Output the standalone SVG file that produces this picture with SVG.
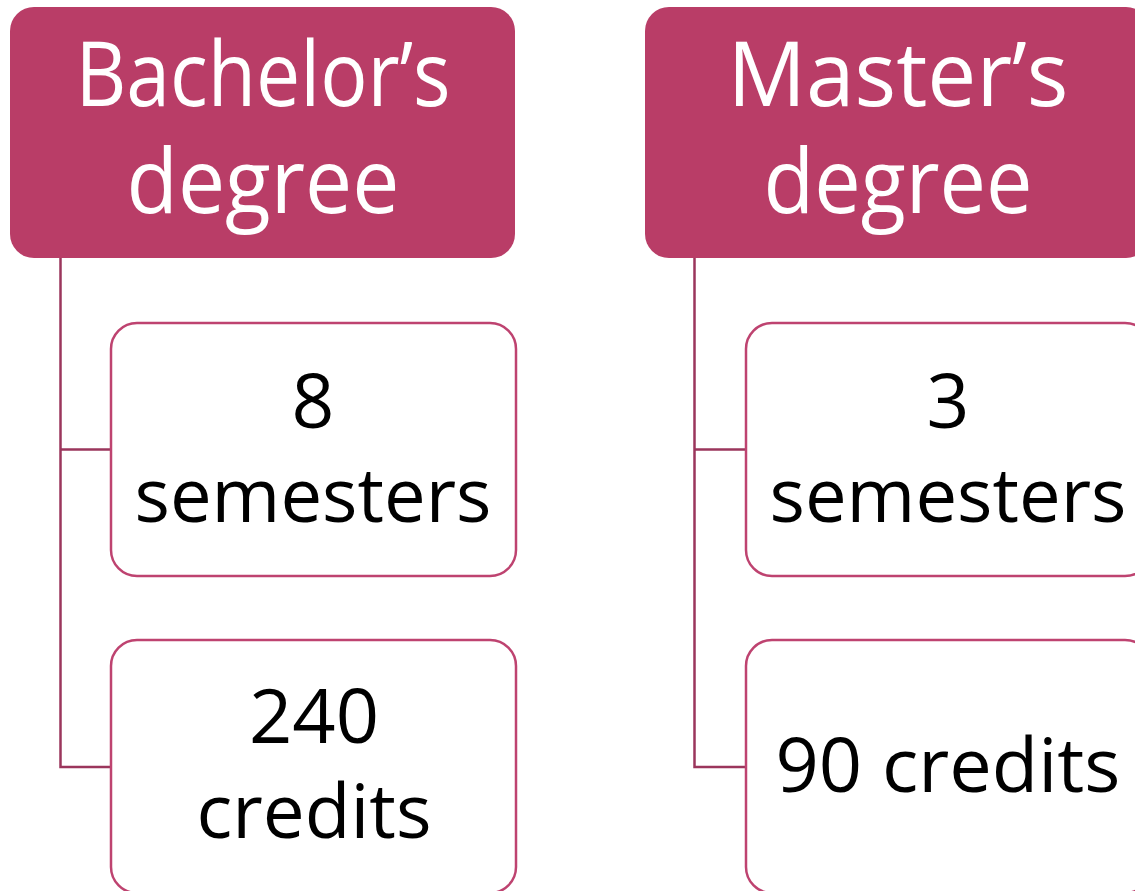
<svg xmlns="http://www.w3.org/2000/svg" width="1135" height="891" viewBox="0 0 1135 891">
<style>
.hdr{fill:#B93D67;}
.box{fill:#FFFFFF;stroke:#BE4370;stroke-width:2.5;}
.conn{fill:none;stroke:#9B365C;stroke-width:2.5;}
.ht{font-family:"Open Sans","Noto Sans",sans-serif;font-size:90px;fill:#FFFFFF;text-anchor:middle;}
.ct{font-family:"Open Sans","Noto Sans",sans-serif;font-size:75px;fill:#000000;text-anchor:middle;}
</style>
<rect width="1135" height="891" fill="#FFFFFF"/>
<g id="connectors">
<path class="conn" d="M60.5 258 V767 H110 M60.5 449.5 H110"/>
<path class="conn" d="M694.5 258 V767 H745 M694.5 449.5 H745"/>
</g>
<g id="bachelor">
<rect class="hdr" x="10" y="7" width="505" height="251" rx="24"/>
<text class="ht" x="263" y="106" textLength="375" lengthAdjust="spacingAndGlyphs">Bachelor’s</text>
<text class="ht" x="263" y="213" textLength="273" lengthAdjust="spacingAndGlyphs">degree</text>
</g>
<g id="b-semesters">
<rect class="box" x="111" y="323" width="405" height="253" rx="26"/>
<text class="ct" x="313" y="428">8</text>
<text class="ct" x="313" y="522" textLength="357" lengthAdjust="spacingAndGlyphs">semesters</text>
</g>
<g id="b-credits">
<rect class="box" x="111" y="640" width="405" height="253" rx="26"/>
<text class="ct" x="314" y="743" textLength="130" lengthAdjust="spacingAndGlyphs">240</text>
<text class="ct" x="314" y="838" textLength="235" lengthAdjust="spacingAndGlyphs">credits</text>
</g>
<g id="master">
<rect class="hdr" x="645" y="7" width="505" height="251" rx="24"/>
<text class="ht" x="898" y="106" textLength="341" lengthAdjust="spacingAndGlyphs">Master’s</text>
<text class="ht" x="898" y="213" textLength="269" lengthAdjust="spacingAndGlyphs">degree</text>
</g>
<g id="m-semesters">
<rect class="box" x="746" y="323" width="405" height="253" rx="26"/>
<text class="ct" x="948" y="428">3</text>
<text class="ct" x="948" y="522" textLength="357" lengthAdjust="spacingAndGlyphs">semesters</text>
</g>
<g id="m-credits">
<rect class="box" x="746" y="640" width="405" height="253" rx="26"/>
<text class="ct" x="948" y="792" textLength="345" lengthAdjust="spacingAndGlyphs">90 credits</text>
</g>
</svg>
